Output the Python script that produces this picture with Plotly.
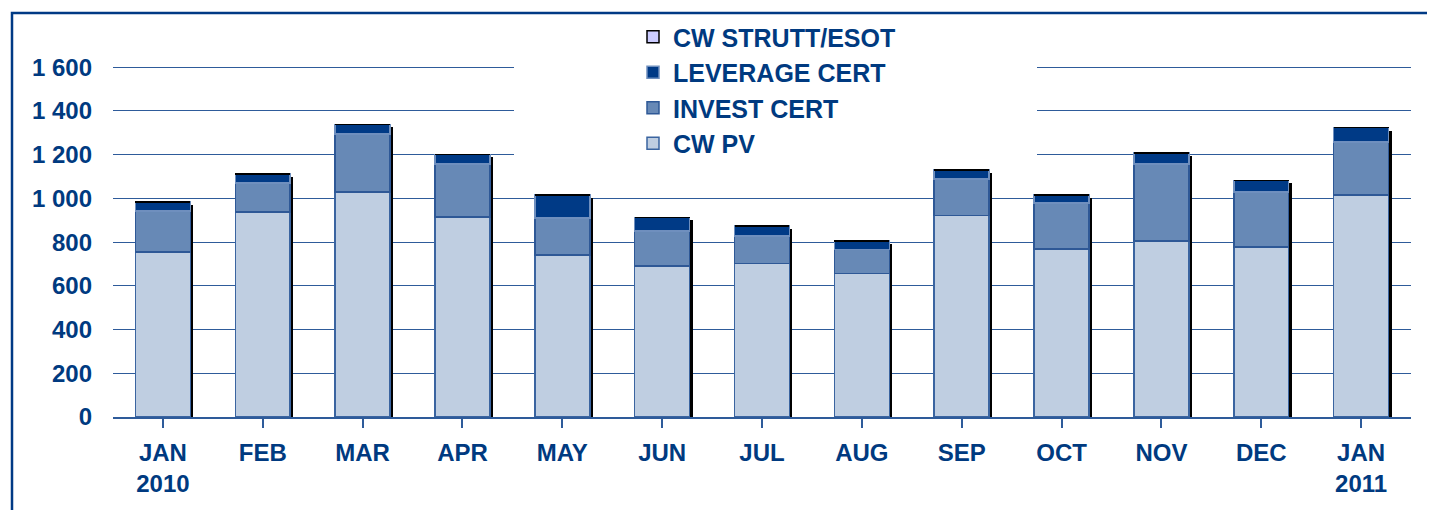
import plotly.graph_objects as go

categories = ["JAN<br>2010", "FEB", "MAR", "APR", "MAY", "JUN", "JUL", "AUG",
              "SEP", "OCT", "NOV", "DEC", "JAN<br>2011"]
cw_pv = [754, 937, 1029, 914, 742, 692, 703, 657, 923, 768, 805, 777, 1015]
invest_cert = [188, 133, 265, 243, 169, 158, 126, 110, 165, 210, 352, 252, 244]
leverage_cert = [41, 41, 45, 45, 105, 63, 46, 39, 41, 37, 50, 54, 65]
cw_strutt_esot = [0] * 13
y_ticks = [0, 200, 400, 600, 800, 1000, 1200, 1400, 1600]

OFF = 8  # page body margin
W, H = 1435 - OFF, 510 - OFF
# target screen positions
X0, X1 = 113, 1411          # plot left/right on screen
Y0, Y1600 = 417.3, 67.3     # pixel of 0 and 1600 on screen
px_per_unit = (Y0 - Y1600) / 1600
ymax = 1615
plot_top = Y0 - ymax * px_per_unit
L = X0 - OFF
R = (W + OFF) - X1
T = plot_top - OFF
B = (H + OFF) - Y0
plot_w = X1 - X0
plot_h = Y0 - plot_top
cat_w = plot_w / len(categories)


def px(x):
    return (x - X0) / plot_w


def py(y):
    return (Y0 - y) / plot_h


TXT = "#003A80"
GRID = "#2E5B9A"
FONT = "Liberation Sans"

totals = [a + b + c + d for a, b, c, d in zip(cw_pv, invest_cert, leverage_cert, cw_strutt_esot)]
shadow_drop = 3 / px_per_unit
shadow_vals = [t - shadow_drop for t in totals]
shift = 3 / cat_w

fig = go.Figure()

# shadow behind the bars (on the base, hidden x axis shifted slightly)
fig.add_trace(go.Bar(x=list(range(len(categories))), y=shadow_vals, xaxis="x", yaxis="y",
                     marker=dict(color="black", line=dict(width=0)),
                     showlegend=False, hoverinfo="skip"))

series = [
    ("CW PV", cw_pv, "#BFCEE1", "#3A64A0"),
    ("INVEST CERT", invest_cert, "#6789B6", "#2E5896"),
    ("LEVERAGE CERT", leverage_cert, "#003A86", "#6F8FBE"),
    ("CW STRUTT/ESOT", cw_strutt_esot, "#CCCCFF", "#000000"),
]
for name, vals, fill, edge in series:
    fig.add_trace(go.Bar(name=name, x=list(range(len(categories))), y=vals,
                         xaxis="x2", yaxis="y",
                         marker=dict(color=fill, line=dict(color=edge, width=1.5))))

fig.update_layout(
    width=W, height=H,
    margin=dict(l=L, r=R, t=T, b=B, autoexpand=False),
    paper_bgcolor="white", plot_bgcolor="white",
    barmode="stack", bargap=0.45,
    separators=". ",
    font=dict(family=FONT, color=TXT, size=24, weight="bold"),
    xaxis=dict(range=[-0.5 - shift, len(categories) - 0.5 - shift], visible=False,
               showgrid=False, zeroline=False),
    xaxis2=dict(overlaying="x", side="bottom",
                range=[-0.5, len(categories) - 0.5],
                tickmode="array", tickvals=list(range(len(categories))), ticktext=categories,
                showgrid=False, zeroline=False,
                showline=True, linecolor=GRID, linewidth=1.5,
                ticks="outside", ticklen=9, tickcolor=GRID, tickwidth=1.5,
                tickson="boundaries", ticklabelstandoff=4,
                tickfont=dict(family=FONT, size=24, color=TXT, weight="bold")),
    yaxis=dict(range=[0, ymax], tickmode="array", tickvals=y_ticks,
               tickformat=",d", showgrid=True, gridcolor=GRID, gridwidth=1.3,
               zeroline=False, showline=False, ticks="",
               ticklabelstandoff=20,
               tickfont=dict(family=FONT, size=24, color=TXT, weight="bold")),
    legend=dict(x=px(633), xanchor="left",
                y=py(14), yanchor="top",
                traceorder="reversed", bgcolor="rgba(0,0,0,0)",
                font=dict(family=FONT, size=25, color=TXT, weight="bold"),
                tracegroupgap=0),
    shapes=[
        # white area behind the legend hiding the gridlines
        dict(type="rect", xref="paper", yref="paper",
             x0=px(514), x1=px(1037), y0=py(160), y1=py(20),
             fillcolor="white", line=dict(width=0), layer="above"),
        # outer frame
        dict(type="rect", xref="paper", yref="paper",
             x0=px(12), x1=px(1500), y0=py(600), y1=py(13),
             fillcolor="rgba(0,0,0,0)", line=dict(color="#003A85", width=2.5),
             layer="above"),
    ],
)

fig.write_html("out.html")
